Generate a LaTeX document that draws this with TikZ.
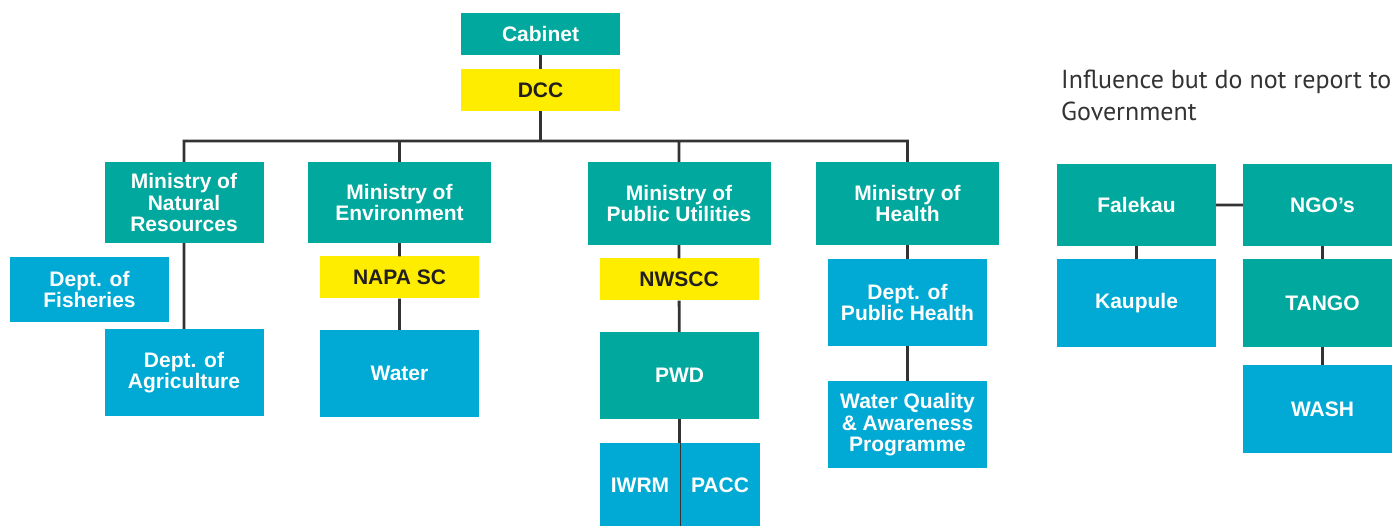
\documentclass[tikz,border=0pt]{standalone}
\usepackage{fontspec}
\setmainfont{Liberation Sans}
\newfontfamily\notefont{PT Sans}
\usetikzlibrary{positioning}
\definecolor{govteal}{RGB}{0,168,157}
\definecolor{govblue}{RGB}{0,170,212}
\definecolor{govyellow}{RGB}{255,237,0}
\definecolor{govline}{RGB}{51,51,51}
\tikzset{
x=1pt, y=-1pt, % one unit is one pixel of the chart, y runs downwards
org/.style={minimum width=159pt, inner sep=0pt, align=center, font=\bfseries\fontsize{21}{21.5}\selectfont, text=white}, % every box
body/.style={org, fill=govteal}, % ministries and bodies
dept/.style={org, fill=govblue}, % departments and programmes
cttee/.style={org, fill=govyellow, text={rgb,255:red,35;green,31;blue,32}, minimum height=42pt}, % committees
link/.style={draw=govline, line width=2.8pt}, % reporting lines
}
\begin{document}
\begin{tikzpicture}
\useasboundingbox (0,0) rectangle (1392,526);
\clip (0,0) rectangle (1392,526);
% government
\node[body, minimum height=42pt] (cab) at (540.5,34) {Cabinet};
\node[cttee] (dcc) at (540.5,90) {DCC};
\coordinate (bus) at (540.5,141);
\node[body, minimum height=81pt] (mnr) at (184,202.5) {Ministry of\\Natural\\Resources};
\node[body, minimum width=183pt, minimum height=81pt] (moe) at (399.5,202.5) {Ministry of\\Environment};
\node[body, minimum width=183pt, minimum height=83pt] (mpu) at (679,203.5) {Ministry of\\Public Utilities};
\node[body, minimum width=183pt, minimum height=83pt] (moh) at (907.5,203.5) {Ministry of\\Health};
\node[dept, minimum height=65pt] (fish) at (89.5,289.5) {Dept. of\\Fisheries};
\node[dept, minimum height=87pt] (agri) at (184,372.5) {Dept. of\\Agriculture};
\node[cttee] (napa) at (399.5,277.5) {NAPA SC};
\node[dept, minimum height=87pt] (water) at (399.5,373.5) {Water};
\node[cttee] (nwscc) at (679,279.5) {NWSCC};
\node[body, minimum height=87pt] (pwd) at (679.5,375.5) {PWD};
\node[dept, minimum width=80pt, minimum height=84pt] (iwrm) at (640,485) {IWRM};
\node[dept, minimum width=80pt, minimum height=84pt] (pacc) at (720,485) {PACC};
\node[dept, minimum height=87pt] (dph) at (907.5,302.5) {Dept. of\\Public Health};
\node[dept, minimum height=87pt, text depth=4pt] (wqap) at (907.5,424.5) {Water Quality\\\& Awareness\\Programme};
% outside government
\node[anchor=north west, align=left, inner sep=0pt, font=\notefont\fontsize{26}{32}\selectfont, text=govline] (note) at (1061,70) {Influence but do not report to\\Government};
\node[body, minimum height=82pt] (fale) at (1136.5,205) {Falekau};
\node[body, minimum height=82pt] (ngo) at (1322.5,205) {NGO’s};
\node[dept, minimum height=88pt] (kaup) at (1136.5,303) {Kaupule};
\node[body, minimum height=88pt] (tango) at (1322.5,303) {TANGO};
\node[dept, minimum height=88pt] (wash) at (1322.5,409) {WASH};
\draw[link]
    (cab) -- (dcc)
    (dcc) -- (bus)
    (mnr.north) |- (bus) -| (moh.north)
    (moe.north) -- (moe.north |- bus)
    (mpu.north) -- (mpu.north |- bus)
    (mnr) -- (agri)
    (moe) -- (napa) (napa) -- (water)
    (mpu) -- (nwscc) (nwscc) -- (pwd)
    (pwd) -- (pwd |- iwrm.north)
    (moh) -- (dph) (dph) -- (wqap)
    (fale) -- (ngo)
    (fale) -- (kaup)
    (ngo) -- (tango) (tango) -- (wash)
    ;
\draw[govline, line width=1.2pt] (iwrm.north east) -- (iwrm.south east);
\end{tikzpicture}
\end{document}
